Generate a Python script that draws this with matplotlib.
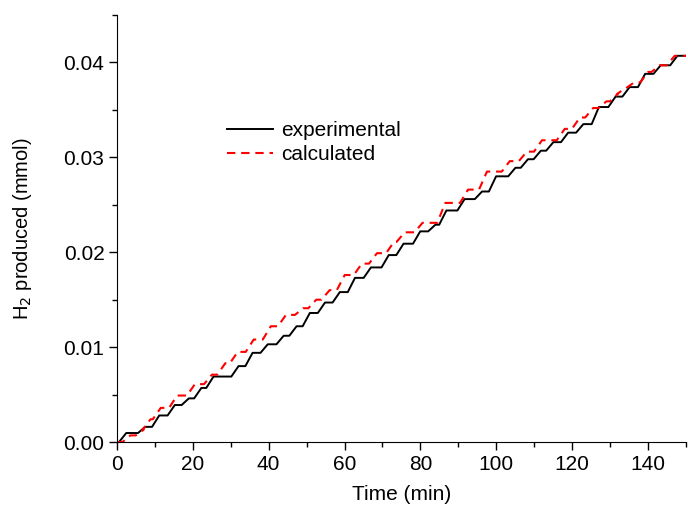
import numpy as np
import matplotlib
matplotlib.use('Agg')
from matplotlib import pyplot as plt
from matplotlib.ticker import MultipleLocator, FormatStrFormatter

plt.rcParams['font.family'] = ['Liberation Sans', 'DejaVu Sans']

# step times (min) and plateau levels (mmol)
exp_t = [1.5, 6.5, 10.2, 14.3, 18.0, 21.3, 24.5, 31.1, 34.8, 38.8, 43.0, 46.4,
         49.9, 53.9, 57.8, 61.8, 66.0, 70.7, 74.6, 79.0, 83.0, 85.9, 90.7, 95.3,
         99.0, 104.1, 107.4, 110.8, 114.1, 118.0, 122.0, 126.1, 130.5, 134.2,
         138.3, 142.4, 146.8]
exp_y = [0.00095, 0.0016, 0.0028, 0.0039, 0.0046, 0.0057, 0.0069, 0.0080, 0.0094,
         0.0103, 0.0112, 0.0122, 0.0136, 0.0147, 0.0158, 0.0173, 0.0184, 0.0197,
         0.0209, 0.0222, 0.0229, 0.0244, 0.0256, 0.0264, 0.0280, 0.0289, 0.0298,
         0.0307, 0.0316, 0.0326, 0.0335, 0.0353, 0.0364, 0.0374, 0.0388, 0.0397,
         0.0407]

calc_t = [2.5, 6.0, 7.8, 10.5, 14.8, 19.5, 24.0, 27.5, 30.8, 35.0, 39.5, 43.5,
          48.0, 51.5, 55.0, 59.0, 63.5, 67.5, 72.0, 74.8, 79.5, 85.5, 91.5, 96.5,
          102.5, 107.0, 111.0, 117.0, 121.0, 124.5, 128.0, 131.0, 133.0, 135.3,
          139.0, 142.0, 146.0]
calc_y = [0.0007, 0.0013, 0.0024, 0.0036, 0.0049, 0.0061, 0.0071, 0.0083, 0.0095,
          0.0108, 0.0122, 0.0134, 0.0141, 0.0150, 0.0160, 0.0176, 0.0188, 0.0199,
          0.0211, 0.0221, 0.0231, 0.0252, 0.0266, 0.0285, 0.0296, 0.0306, 0.0318,
          0.0330, 0.0342, 0.0352, 0.0359, 0.0367, 0.0373, 0.0379, 0.0390, 0.0397,
          0.0407]

t_end = 150


def staircase(t, y, rise):
    xs, ys = [0.0], [0.0]
    prev = 0.0
    for ti, yi in zip(t, y):
        xs += [ti - rise / 2, ti + rise / 2]
        ys += [prev, yi]
        prev = yi
    xs.append(t_end)
    ys.append(prev)
    return np.array(xs), np.array(ys)


fig = plt.figure(figsize=(6.88, 5.17), dpi=100)
ax = fig.add_axes([0.170, 0.145, 0.827, 0.826])

x1, y1 = staircase(exp_t, exp_y, 1.9)
x2, y2 = staircase(calc_t, calc_y, 2.1)
ax.plot(x1, y1, color='black', lw=1.4, label='experimental')
ax.plot(x2, y2, color='red', lw=1.5, ls=(0, (4, 2.8)), label='calculated')

ax.set_xlim(0, 150)
ax.set_ylim(0, 0.045)
ax.xaxis.set_major_locator(MultipleLocator(20))
ax.xaxis.set_minor_locator(MultipleLocator(10))
ax.yaxis.set_major_locator(MultipleLocator(0.01))
ax.yaxis.set_minor_locator(MultipleLocator(0.005))
ax.yaxis.set_major_formatter(FormatStrFormatter('%.2f'))
ax.tick_params(which='both', direction='out', labelsize=15)
ax.tick_params(which='major', length=6, width=1, pad=3)
ax.tick_params(which='minor', length=3.5, width=1)

for s in ['top', 'right']:
    ax.spines[s].set_visible(False)

ax.set_xlabel('Time (min)', fontsize=15, labelpad=8)
ax.set_ylabel('H$_2$ produced (mmol)', fontsize=14.5, labelpad=21)

ax.legend(loc='upper left', bbox_to_anchor=(0.161, 0.795), frameon=False,
          fontsize=15, handlelength=2.2, handletextpad=0.4, labelspacing=0.25)

fig.savefig('out.png', dpi=100)
